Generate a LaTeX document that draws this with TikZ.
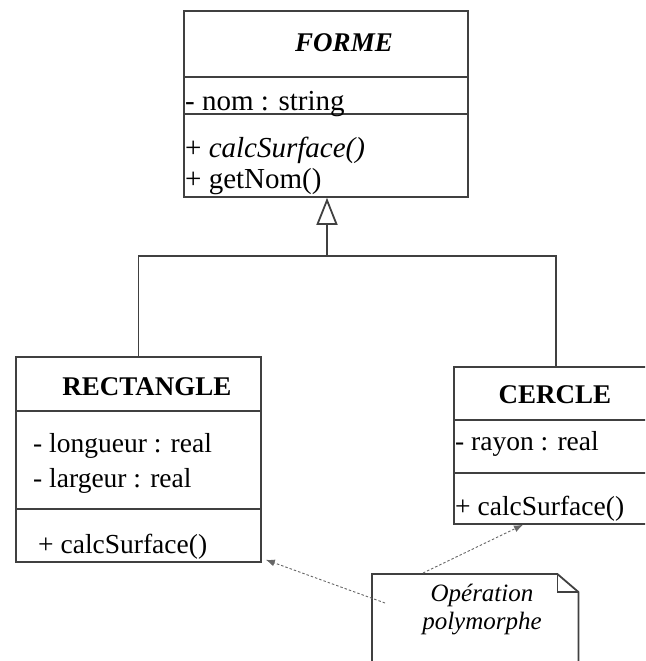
\documentclass[tikz,border=0pt]{standalone}
\usepackage{fontspec}
\setmainfont{Liberation Serif}
\usetikzlibrary{arrows.meta}
\tikzset{
  umlline/.style={draw=black!75, line width=1.8pt},
  classbox/.style={umlline, rectangle, inner sep=0pt, anchor=north west},
  member/.style={anchor=base west, inner sep=0pt, font=\fontsize{27.5}{32}\selectfont},
  bigmember/.style={member, font=\fontsize{29}{34}\selectfont},
  classname/.style={anchor=base, inner sep=0pt, font=\fontsize{27}{32}\selectfont\bfseries},
  notetext/.style={anchor=base, inner sep=0pt, font=\fontsize{25}{30}\selectfont\itshape},
  notelink/.style={draw=black!60, line width=0.9pt, dash pattern=on 2.5pt off 2pt,
    -{Latex[length=9pt,width=7pt]}},
  inherit/.style={umlline, -{Triangle[open, length=27pt, width=21pt]}},
}
\begin{document}
\begin{tikzpicture}[x=1pt, y=-1pt]
\useasboundingbox (0,0) rectangle (645,661);
\clip (0,0) rectangle (645,661);

% class FORME
\node[classbox, minimum width=284pt, minimum height=186pt] (forme) at (183,10) {};
\draw[umlline] (forme.west |- 0,77) -- (forme.east |- 0,77);
\draw[umlline] (forme.west |- 0,114) -- (forme.east |- 0,114);
\node[classname, font=\fontsize{27}{32}\selectfont\bfseries\itshape] (formeName) at (344,52) {FORME};
\node[bigmember] (formeNom) at (185,110) {- nom : string};
\node[bigmember] (formeCalc) at (185,157) {+ \textit{calcSurface()}};
\node[bigmember] (formeGet) at (185,188) {+ getNom()};

% class RECTANGLE
\node[classbox, minimum width=245pt, minimum height=205pt] (rect) at (15,356) {};
\draw[umlline] (rect.west |- 0,411) -- (rect.east |- 0,411);
\draw[umlline] (rect.west |- 0,509) -- (rect.east |- 0,509);
\node[classname] (rectName) at (147,395) {RECTANGLE};
\node[member] (rectLong) at (33,452) {- longueur : real};
\node[member] (rectLarg) at (33,487) {- largeur : real};
\node[member] (rectCalc) at (38,553) {+ calcSurface()};

% class CERCLE (runs past the right edge)
\node[classbox, minimum width=200pt, minimum height=157pt] (cercle) at (453,366) {};
\draw[umlline] (cercle.west |- 0,420) -- (cercle.east |- 0,420);
\draw[umlline] (cercle.west |- 0,473) -- (cercle.east |- 0,473);
\node[classname] (cercleName) at (555,403) {CERCLE};
\node[member] (cercleRayon) at (455,450) {- rayon : real};
\node[member] (cercleCalc) at (455,515) {+ calcSurface()};

% generalisation
\coordinate (junc) at (327,256);
\draw[umlline] (rect.north) |- (junc) -| (556,366);
\draw[inherit] (junc) -- (junc |- forme.south);

% note with folded corner
\node[inner sep=0pt, minimum width=206pt, minimum height=110pt, anchor=north west] (note) at (372,574) {};
\draw[umlline, fill=white] (note.south west) -- (note.north west) -- ([xshift=-21pt]note.north east)
  -- ([yshift=-18pt]note.north east) -- (note.south east);
\draw[umlline] ([xshift=-21pt]note.north east) |- ([yshift=-18pt]note.north east);
\node[notetext] (noteL1) at (482,601) {Opération};
\node[notetext] (noteL2) at (482,629) {polymorphe};

% links from the note to the operations
\coordinate (noteLeft) at (385,603);
\coordinate (noteTop) at (423,573);
\draw[notelink] (noteLeft) -- ([shift={(4,-3)}]rect.south east);
\draw[notelink] (noteTop) -- ([xshift=70pt]cercle.south west);
\end{tikzpicture}
\end{document}
